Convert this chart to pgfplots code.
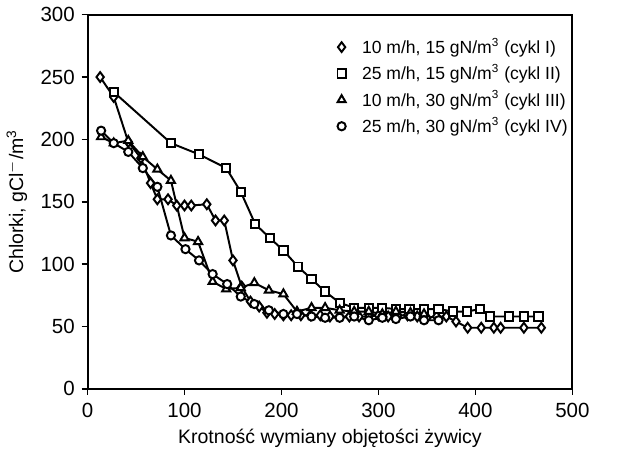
\documentclass[border=0pt]{standalone}
\usepackage{pgfplots}
\pgfplotsset{compat=1.18}
\usepackage{fontspec}
\setmainfont{Liberation Sans}

\begin{document}
\begin{tikzpicture}
\begin{axis}[
  scale only axis,
  width=247.5bp, height=191bp,
  xmin=0, xmax=500, ymin=0, ymax=300,
  xtick={0,100,...,500}, ytick={0,50,...,300},
  axis line style={line width=1bp},
  tick style={line width=0.8bp, black},
  tick align=outside, major tick length=3bp,
  xtick pos=bottom, ytick pos=left,
  ticklabel style={font=\fontsize{10.5}{12}\selectfont},
  xticklabel style={yshift=-1bp},
  /pgf/number format/assume math mode=true,
  xlabel={Krotność wymiany objętości żywicy},
  ylabel={Chlorki, gCl$^{-}$/m\textsuperscript{3}},
  label style={font=\fontsize{10}{12}\selectfont},
  xlabel style={yshift=1bp},
  legend style={draw=none, fill=none, at={(0.5,0.96)}, anchor=north west,
    font=\fontsize{9}{11}\selectfont, row sep=0bp},
  legend cell align=left,
  legend image code/.code={\draw[#1] plot[only marks] coordinates {(0.08cm,0cm)};
    \path (0cm,0cm) (0.36cm,0cm);},
  every axis plot/.append style={black, line width=1bp, mark size=2.1bp,
    mark options={fill=white, solid}},
]
% cykl I
\addplot[mark=diamond*, mark size=2.5bp] coordinates {
 (13,250) (27,234) (42,198) (55,185) (65,165) (72,152) (83,152) (92,147)
 (100,147) (107,147) (123,148) (132,135) (141,135) (150,103) (159,82)
 (168,70) (177,66) (185,61) (193,60) (202,59) (210,59) (220,59) (230,59)
 (240,59) (250,58) (260,58) (270,58) (280,58) (290,58) (300,59) (310,58)
 (320,59) (330,59) (340,58) (350,57) (360,58) (370,58) (380,54) (392,49)
 (406,49) (419,49) (426,49) (450,49) (468,49)};
% cykl II
\addplot[mark=square*] coordinates {
 (27,238) (86,197) (115,188) (143,177) (158,158) (173,132) (188,121)
 (202,111) (217,98) (231,88) (245,78) (260,69) (275,65) (290,65) (304,65)
 (318,64) (332,64) (347,64) (362,64) (377,62) (391,62) (405,64) (415,58)
 (435,58) (450,58) (465,58)};
% cykl III
\addplot[mark=triangle*, mark size=2.4bp] coordinates {
 (14,202) (27,197) (42,199) (57,186) (72,176) (86,167) (100,121) (114,118)
 (129,86) (143,80) (158,81) (172,85) (187,79) (202,76) (216,62) (231,65)
 (245,65) (260,63) (275,62) (290,62) (304,60) (318,62) (333,61) (347,60)};
% cykl IV
\addplot[mark=*] coordinates {
 (14,207) (27,197) (42,190) (57,177) (72,162) (86,123) (101,112) (115,103)
 (129,92) (144,84) (158,74) (172,68) (187,63) (202,60) (216,60) (231,58)
 (245,57) (260,57) (275,58) (290,55) (304,57) (318,56) (333,58) (347,55)
 (362,55)};
\legend{{10 m/h, 15 gN/m\textsuperscript{3} (cykl I)},
  {25 m/h, 15 gN/m\textsuperscript{3} (cykl II)},
  {10 m/h, 30 gN/m\textsuperscript{3} (cykl III)},
  {25 m/h, 30 gN/m\textsuperscript{3} (cykl IV)}}
\end{axis}
\path (current axis.south east) ++(33.5bp,0) (current axis.north west) ++(0,7.5bp);
\end{tikzpicture}
\end{document}
